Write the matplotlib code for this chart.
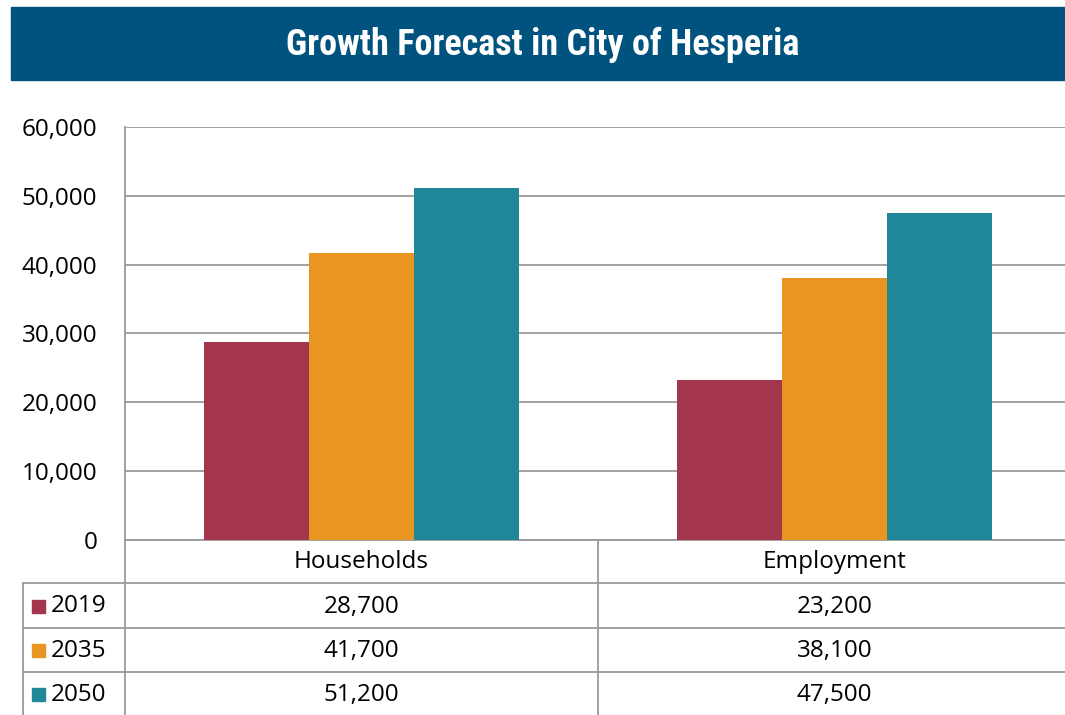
import matplotlib
matplotlib.use("Agg")
import matplotlib.pyplot as plt
from matplotlib.patches import Rectangle

categories = ['Households', 'Employment']
years = ['2019', '2035', '2050']
v2019 = [28700, 23200]
v2035 = [41700, 38100]
v2050 = [51200, 47500]
yticks = [0, 10000, 20000, 30000, 40000, 50000, 60000]
title = 'Growth Forecast in City of Hesperia'

COLORS = ['#A3354D', '#E89522', '#1F8797']
BANNER = '#00537F'
GRID = '#9A9A9A'
FS = 17.5
plt.rcParams['font.family'] = ['Open Sans', 'DejaVu Sans']

W, H = 1065, 715
fig = plt.figure(figsize=(W / 100, H / 100), dpi=100)

def px(x0, y0, x1, y1):
    # figure rectangle from pixel box (top-left origin)
    return [x0 / W, 1 - y1 / H, (x1 - x0) / W, (y1 - y0) / H]

# title banner
fig.patches.append(Rectangle((11 / W, 1 - 80 / H), 1, 73 / H, transform=fig.transFigure,
                             color=BANNER, zorder=0))
fig.text(543 / W, 1 - 45 / H, title, color='white', fontsize=26, fontweight='bold',
         family=['Roboto Condensed', 'Roboto', 'DejaVu Sans'], ha='center', va='center',
         fontstretch='condensed')

# bar chart
ax = fig.add_axes(px(125, 127, 1071, 540))
series = [v2019, v2035, v2050]
bw = 0.2225
for i, (vals, c) in enumerate(zip(series, COLORS)):
    xs = [k + 0.5 + (i - 1) * bw for k in range(len(categories))]
    ax.bar(xs, vals, width=bw, color=c, zorder=3)
ax.set_xlim(0, 2)
ax.set_ylim(0, 60000)
ax.set_yticks(yticks)
ax.set_yticklabels([f'{v:,}' for v in yticks], fontsize=FS)
ax.tick_params(axis='y', length=0, pad=20)
ax.set_xticks([])
ax.grid(axis='y', color=GRID, lw=1.3, zorder=0)
for s in ['top', 'right']:
    ax.spines[s].set_visible(False)
ax.spines['left'].set_color(GRID)
ax.spines['bottom'].set_color(GRID)
ax.spines['left'].set_linewidth(1.3)
ax.spines['bottom'].set_linewidth(1.3)
ax.set_facecolor('none')

# data table under the chart, drawn in pixel coordinates
tb = fig.add_axes([0, 0, 1, 1 - 540 / H])
tb.set_xlim(0, W)
tb.set_ylim(H, 540)
tb.axis('off')
row_y = [540, 583, 628, 672, 716]
col_x = [23, 125, 598, 1071]
lk = dict(color=GRID, lw=1.3, clip_on=False)
tb.plot([col_x[1], col_x[1]], [row_y[0], H], **lk)
tb.plot([col_x[2], col_x[2]], [row_y[0], H], **lk)
tb.plot([col_x[0], col_x[0]], [row_y[1], H], **lk)
for y in row_y[1:4]:
    tb.plot([col_x[0], W], [y, y], **lk)
for k, cat in enumerate(categories):
    cx = (col_x[k + 1] + col_x[k + 2]) / 2
    tb.text(cx, (row_y[0] + row_y[1]) / 2 + 1, cat, ha='center', va='center', fontsize=FS)
for r, (yr, vals, c) in enumerate(zip(years, series, COLORS)):
    cy = (row_y[r + 1] + row_y[r + 2]) / 2 + 1
    tb.add_patch(Rectangle((32, cy - 7), 13, 13, color=c))
    tb.text(51, cy, yr, ha='left', va='center', fontsize=FS)
    for k, v in enumerate(vals):
        cx = (col_x[k + 1] + col_x[k + 2]) / 2
        tb.text(cx, cy, f'{v:,}', ha='center', va='center', fontsize=FS)

fig.savefig('out.png', dpi=100, facecolor='white')
